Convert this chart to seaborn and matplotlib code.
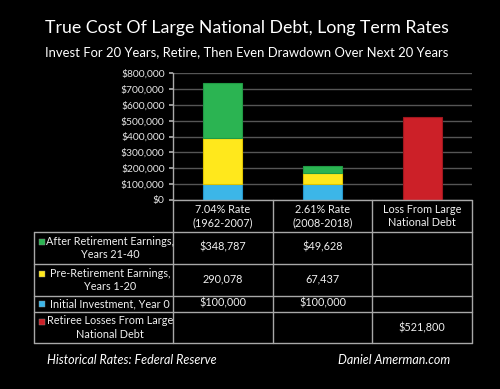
import numpy as np
import pandas as pd
import matplotlib
matplotlib.use("Agg")
import matplotlib.pyplot as plt
import seaborn as sns

# ---- data ----
categories = ["7.04% Rate\n(1962-2007)", "2.61% Rate\n(2008-2018)", "Loss From Large\nNational Debt"]
initial_investment = [100000, 100000, 0]
pre_retirement = [290078, 67437, 0]
after_retirement = [348787, 49628, 0]
debt_losses = [0, 0, 521800]
series_names = ["Initial Investment, Year 0", "Pre-Retirement Earnings,\nYears 1-20",
                "After Retirement Earnings,\nYears 21-40", "Retiree Losses From Large\nNational Debt"]
table_values = [["$348,787", "$49,628", ""],
                ["290,078", "67,437", ""],
                ["$100,000", "$100,000", ""],
                ["", "", "$521,800"]]
yticks = [0, 100000, 200000, 300000, 400000, 500000, 600000, 700000, 800000]
ytick_labels = ["$0", "$100,000", "$200,000", "$300,000", "$400,000",
                "$500,000", "$600,000", "$700,000", "$800,000"]

colors = {"blue": "#3cb6e8", "yellow": "#ffe81c", "green": "#2bb452", "red": "#cc2028"}
edges = {"blue": "#2596cc", "yellow": "#e0c400", "green": "#209a44", "red": "#a0161e"}

sns.set_theme(style="dark")
plt.rcParams['font.family'] = ['Lato', 'DejaVu Sans']

fig = plt.figure(figsize=(5, 3.89), dpi=100, facecolor="black")
W, H = 500, 389
ax = fig.add_axes([173 / W, 1 - 200 / H, (472 - 173) / W, (200 - 73) / H])
ax.set_facecolor("black")

# long-form data with stacking bottoms
rows = []
stack = [("blue", initial_investment), ("yellow", pre_retirement), ("green", after_retirement), ("red", debt_losses)]
bottoms = np.zeros(len(categories))
for cname, vals in stack:
    for i, c in enumerate(categories):
        rows.append({"category": c, "series": cname, "value": vals[i], "bottom": bottoms[i]})
    bottoms = bottoms + np.array(vals)
df = pd.DataFrame(rows)

for cname, _ in stack:
    sub = df[(df["series"] == cname) & (df["value"] > 0)]
    sns.barplot(data=sub, x="category", y="value", order=categories, ax=ax,
                bottom=sub["bottom"].values, color=colors[cname], saturation=1,
                width=0.39, edgecolor=edges[cname], linewidth=0.8, errorbar=None)

ax.set_xlim(-0.5, 2.5)
ax.set_ylim(0, 800000)
ax.set_yticks(yticks)
ax.set_yticklabels(ytick_labels, color="#e6e6e6", fontsize=7.4)
ax.set_xticks([])
ax.set_xlabel("")
ax.set_ylabel("")
ax.grid(axis="y", color="#555555", linewidth=1)
ax.set_axisbelow(True)
ax.tick_params(axis="y", length=3, color="#aaaaaa", pad=3, left=True)
for s in ["top", "right", "bottom"]:
    ax.spines[s].set_visible(False)
ax.spines["left"].set_color("#aaaaaa")
ax.spines["left"].set_linewidth(1)

# ---- overlay for table and text (pixel coords) ----
ov = fig.add_axes([0, 0, 1, 1], facecolor="none")
ov.set_xlim(0, W)
ov.set_ylim(H, 0)
ov.axis("off")
lc = "#a8a8a8"
lw = 1.0
ov.plot([173, 472], [200, 200], color=lc, lw=lw)
for y in [232, 264, 296, 312, 343]:
    ov.plot([34, 472], [y, y], color=lc, lw=lw)
ov.plot([34, 34], [232, 343], color=lc, lw=lw)
for x in [173, 273, 372, 472]:
    ov.plot([x, x], [200, 343], color=lc, lw=lw)

txt = "#f0f0f0"
fs = 7.8
col_centers = [223, 322.5, 422]
for i, c in enumerate(categories):
    ov.text(col_centers[i], 216, c, ha="center", va="center", color=txt, fontsize=fs, linespacing=1.25)

row_centers = [248, 280, 304, 327.5]
label_order = [2, 1, 0, 3]
marker_colors = ["green", "yellow", "blue", "red"]
for r in range(4):
    name = series_names[label_order[r]]
    ov.text(110, row_centers[r], name, ha="center", va="center", color=txt,
            fontsize=fs, linespacing=1.25)
    lines = name.split("\n")
    my = row_centers[r] - (6 if len(lines) > 1 else 0)
    ov.scatter([41.5], [my], marker="s", s=14, color=colors[marker_colors[r]],
               edgecolors="#888888", linewidths=0.3)
    for j in range(3):
        if table_values[r][j]:
            ov.text(col_centers[j], row_centers[r] - (1 if r < 3 else 0), table_values[r][j],
                    ha="center", va="center", color=txt, fontsize=fs)

# titles
ov.text(247, 28, "True Cost Of Large National Debt, Long Term Rates", ha="center", va="center",
        color="white", fontsize=12.8)
ov.text(247, 52, "Invest For 20 Years, Retire, Then Even Drawdown Over Next 20 Years",
        ha="center", va="center", color="white", fontsize=9.4)
ov.text(47, 360, "Historical Rates: Federal Reserve", ha="left", va="center",
        color="white", fontsize=9, style="italic")
ov.text(450, 360, "Daniel Amerman.com", ha="right", va="center",
        color="white", fontsize=9, style="italic")

fig.savefig("out.png", dpi=100, facecolor="black")
